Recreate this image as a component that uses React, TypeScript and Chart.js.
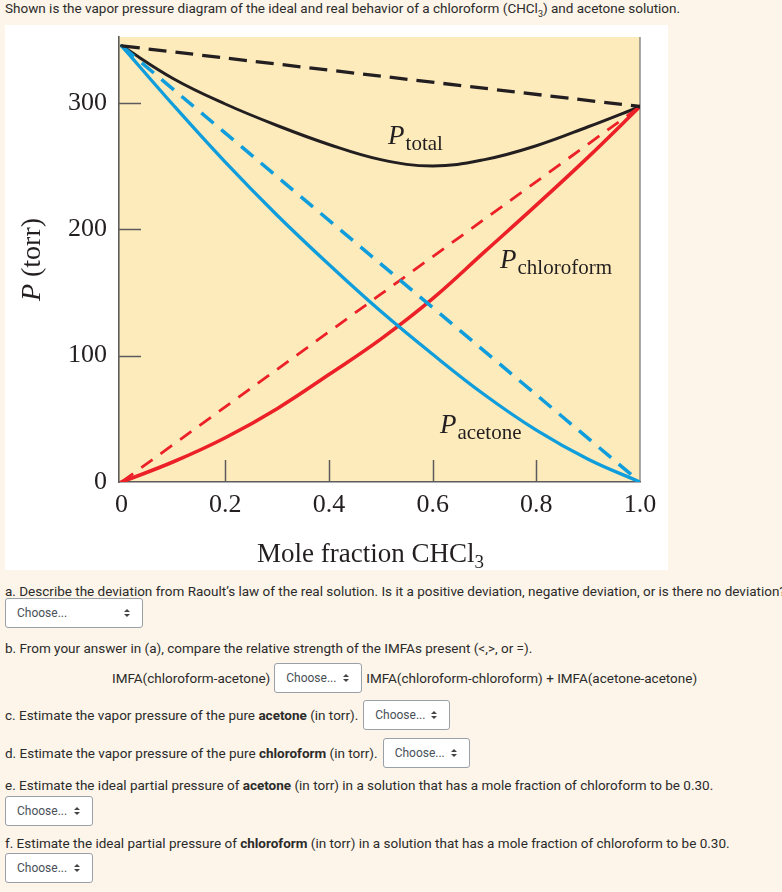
import React, { useEffect, useRef } from 'react';
import { Chart, registerables } from 'chart.js';

Chart.register(...registerables);

// ---- data ----
const moleFraction = [0, 0.1, 0.2, 0.3, 0.4, 0.5, 0.6, 0.7, 0.8, 0.9, 1.0];
const realAcetone = [345, 298, 253, 211, 172, 135, 101, 69, 41, 18, 0];
const realChloroform = [0, 16, 35, 58, 85, 113, 145, 182, 219, 257, 297];
const realTotal = [345, 319, 299, 282, 267, 255, 250, 255, 266, 281, 297];

const idealFraction = [0, 1];
const idealAcetone = [345, 0];
const idealChloroform = [0, 297];
const idealTotal = [345, 297];

const xTickValues = [0, 0.2, 0.4, 0.6, 0.8, 1.0];
const xTickLabels = ['0', '0.2', '0.4', '0.6', '0.8', '1.0'];
const yTickValues = [0, 100, 200, 300];
const yTickLabels = ['0', '100', '200', '300'];
const innerXTicks = [0.2, 0.4, 0.6, 0.8];
const innerYTicks = [100, 200, 300];

const curveLabelMain = ['P', 'P', 'P'];
const curveLabelSub = ['total', 'chloroform', 'acetone'];
const curveLabelX = [0.514, 0.73, 0.614];
const curveLabelY = [267, 169, 39];

// ---- styles ----
const BLUE = '#0f9ddc';
const RED = '#ec2027';
const BLACK = '#231f20';
const PLOT_BG = '#feebbc';
const AXIS = '#5c5c5c';
const SERIF = '"Liberation Serif", "Times New Roman", serif';

const pts = (xs: number[], ys: number[]) => xs.map((x, i) => ({ x, y: ys[i] }));

const decorPlugin = {
  id: 'decor',
  beforeDraw(chart: any) {
    const { ctx, chartArea: a } = chart;
    ctx.save();
    ctx.fillStyle = PLOT_BG;
    ctx.fillRect(a.left, a.top, a.right - a.left, a.bottom - a.top);
    ctx.restore();
  },
  beforeDatasetsDraw(chart: any) {
    const { ctx, chartArea: a, scales } = chart;
    ctx.save();
    ctx.strokeStyle = AXIS;
    ctx.lineWidth = 1.5;
    ctx.beginPath();
    innerYTicks.forEach((v) => {
      const y = Math.round(scales.y.getPixelForValue(v)) + 0.5;
      ctx.moveTo(a.left, y);
      ctx.lineTo(a.left + 22, y);
    });
    innerXTicks.forEach((v) => {
      const x = Math.round(scales.x.getPixelForValue(v)) + 0.5;
      ctx.moveTo(x, a.bottom);
      ctx.lineTo(x, a.bottom - 22);
    });
    ctx.stroke();
    ctx.lineWidth = 1.2;
    ctx.strokeStyle = '#707070';
    ctx.beginPath();
    ctx.moveTo(a.right, a.top);
    ctx.lineTo(a.right, a.bottom);
    ctx.stroke();
    ctx.restore();
  },
  afterDatasetsDraw(chart: any) {
    const { ctx, chartArea: a, scales } = chart;
    ctx.save();
    ctx.fillStyle = BLACK;
    ctx.textBaseline = 'alphabetic';
    ctx.textAlign = 'left';
    // curve labels
    curveLabelMain.forEach((m, i) => {
      const x = scales.x.getPixelForValue(curveLabelX[i]);
      const y = scales.y.getPixelForValue(curveLabelY[i]);
      ctx.font = `italic 27px ${SERIF}`;
      ctx.fillText(m, x, y);
      const w = ctx.measureText(m).width;
      ctx.font = `21px ${SERIF}`;
      ctx.fillText(curveLabelSub[i], x + w + 1, y + 6);
    });
    // x axis title
    ctx.font = `27px ${SERIF}`;
    const main = 'Mole fraction CHCl';
    const mw = ctx.measureText(main).width;
    ctx.font = `19px ${SERIF}`;
    const sw = ctx.measureText('3').width;
    const cx = (a.left + a.right) / 2 - 9;
    const sx = cx - (mw + sw) / 2;
    const by = a.bottom + 80;
    ctx.font = `27px ${SERIF}`;
    ctx.fillText(main, sx, by);
    ctx.font = `19px ${SERIF}`;
    ctx.fillText('3', sx + mw, by + 6);
    // y axis title (rotated)
    ctx.translate(35, (a.top + a.bottom) / 2);
    ctx.rotate(-Math.PI / 2);
    ctx.font = `italic 28px ${SERIF}`;
    const pw = ctx.measureText('P').width;
    ctx.font = `28px ${SERIF}`;
    const rest = ' (torr)';
    const rw = ctx.measureText(rest).width;
    const start = -(pw + rw) / 2;
    ctx.font = `italic 28px ${SERIF}`;
    ctx.fillText('P', start, 0);
    ctx.font = `28px ${SERIF}`;
    ctx.fillText(rest, start + pw, 0);
    ctx.restore();
  },
};

function VaporChart() {
  const ref = useRef<HTMLCanvasElement | null>(null);
  useEffect(() => {
    if (!ref.current) return;
    const line = (data: any[], color: string, width: number, dash: number[] | null) => ({
      data,
      borderColor: color,
      borderWidth: width,
      borderDash: dash || [],
      borderCapStyle: dash ? 'butt' : 'round',
      borderJoinStyle: 'round',
      pointRadius: 0,
      fill: false,
      tension: 0.4,
    });
    const chart = new Chart(ref.current, {
      type: 'line',
      data: {
        datasets: [
          line(pts(idealFraction, idealTotal), BLACK, 3.3, [18, 9]) as any,
          line(pts(idealFraction, idealAcetone), BLUE, 3.5, [16, 10]) as any,
          line(pts(idealFraction, idealChloroform), RED, 2.8, [14, 10]) as any,
          line(pts(moleFraction, realTotal), BLACK, 3, null) as any,
          line(pts(moleFraction, realAcetone), BLUE, 3.3, null) as any,
          line(pts(moleFraction, realChloroform), RED, 3.6, null) as any,
        ],
      },
      options: {
        animation: false,
        responsive: false,
        events: [],
        layout: { padding: { top: 12, right: 28, left: 0, bottom: 0 } },
        plugins: { legend: { display: false }, tooltip: { enabled: false } },
        scales: {
          x: {
            type: 'linear',
            min: -0.005,
            max: 1.0,
            grid: { display: false, drawTicks: false },
            border: { display: true, color: AXIS, width: 1.6 },
            afterBuildTicks: (s: any) => {
              s.ticks = xTickValues.map((value) => ({ value }));
            },
            afterFit: (s: any) => {
              s.height = 88;
              s.paddingLeft = 0;
              s.paddingRight = 0;
            },
            ticks: {
              padding: 8,
              maxRotation: 0,
              autoSkip: false,
              color: BLACK,
              font: { family: SERIF, size: 26 },
              callback: (v: any) => xTickLabels[xTickValues.indexOf(Number(v))] ?? '',
            },
          },
          y: {
            type: 'linear',
            min: 0,
            max: 352,
            grid: { display: false, drawTicks: false },
            border: { display: true, color: AXIS, width: 1.6 },
            afterBuildTicks: (s: any) => {
              s.ticks = yTickValues.map((value) => ({ value }));
            },
            afterFit: (s: any) => {
              s.width = 114;
              s.paddingTop = 0;
              s.paddingBottom = 0;
            },
            ticks: {
              padding: 12,
              autoSkip: false,
              color: BLACK,
              font: { family: SERIF, size: 26 },
              callback: (v: any) => yTickLabels[yTickValues.indexOf(Number(v))] ?? '',
            },
          },
        },
      } as any,
      plugins: [decorPlugin as any],
    });
    return () => chart.destroy();
  }, []);
  return (
    <canvas
      ref={ref}
      width={663}
      height={545}
      style={{ display: 'block', width: 663, height: 545 }}
    />
  );
}

function Arrows() {
  return (
    <span
      style={{
        position: 'absolute',
        right: 12,
        top: '50%',
        marginTop: -4,
        width: 6,
        height: 8,
        display: 'block',
      }}
    >
      <span
        style={{
          position: 'absolute',
          left: 0,
          top: 0,
          width: 0,
          height: 0,
          borderLeft: '3px solid transparent',
          borderRight: '3px solid transparent',
          borderBottom: '3.5px solid #444',
        }}
      />
      <span
        style={{
          position: 'absolute',
          left: 0,
          bottom: 0,
          width: 0,
          height: 0,
          borderLeft: '3px solid transparent',
          borderRight: '3px solid transparent',
          borderTop: '3.5px solid #444',
        }}
      />
    </span>
  );
}

function Choose({ width, style }: { width: number; style?: React.CSSProperties }) {
  return (
    <div
      style={{
        boxSizing: 'border-box',
        width,
        height: 30,
        border: '1px solid #9aa0a7',
        borderRadius: 3,
        background: '#fff',
        position: 'relative',
        fontSize: 12,
        color: '#495057',
        lineHeight: '28px',
        paddingLeft: 11,
        flex: 'none',
        ...style,
      }}
    >
      Choose...
      <Arrows />
    </div>
  );
}

export default function App() {
  const row: React.CSSProperties = {
    position: 'absolute',
    left: 5,
    whiteSpace: 'nowrap',
    lineHeight: '16px',
  };
  const flexRow: React.CSSProperties = {
    position: 'absolute',
    display: 'flex',
    alignItems: 'center',
    whiteSpace: 'nowrap',
    height: 30,
  };
  return (
    <div
      style={{
        position: 'fixed',
        left: 0,
        top: 0,
        width: 782,
        height: 892,
        overflow: 'hidden',
        background: '#fdf5e9',
        fontFamily: 'Roboto, "Noto Sans", sans-serif',
        fontSize: 13.5,
        color: '#2b2b2b',
      }}
    >
      <div style={{ ...row, top: 0 }}>
        Shown is the vapor pressure diagram of the ideal and real behavior of a chloroform (CHCl
        <sub style={{ fontSize: 9, lineHeight: 0 }}>3</sub>) and acetone solution.
      </div>
      <div style={{ position: 'absolute', left: 5, top: 25, width: 663, height: 545, background: '#fff' }}>
        <VaporChart />
      </div>
      <div style={{ ...row, top: 583 }}>
        a. Describe the deviation from Raoult’s law of the real solution. Is it a positive deviation, negative
        deviation, or is there no deviation?
      </div>
      <Choose width={138} style={{ position: 'absolute', left: 5, top: 598 }} />
      <div style={{ ...row, top: 640 }}>
        b. From your answer in (a), compare the relative strength of the IMFAs present (&lt;,&gt;, or =).
      </div>
      <div style={{ ...flexRow, left: 112, top: 663 }}>
        <span>IMFA(chloroform-acetone)</span>
        <Choose width={88} style={{ marginLeft: 4, marginRight: 4 }} />
        <span>IMFA(chloroform-chloroform) + IMFA(acetone-acetone)</span>
      </div>
      <div style={{ ...flexRow, left: 5, top: 700 }}>
        <span>
          c. Estimate the vapor pressure of the pure <b>acetone</b> (in torr).
        </span>
        <Choose width={87} style={{ marginLeft: 5 }} />
      </div>
      <div style={{ ...flexRow, left: 5, top: 738 }}>
        <span>
          d. Estimate the vapor pressure of the pure <b>chloroform</b> (in torr).
        </span>
        <Choose width={87} style={{ marginLeft: 5 }} />
      </div>
      <div style={{ ...row, top: 777 }}>
        e. Estimate the ideal partial pressure of <b>acetone</b> (in torr) in a solution that has a mole fraction
        of chloroform to be 0.30.
      </div>
      <Choose width={88} style={{ position: 'absolute', left: 5, top: 796 }} />
      <div style={{ ...row, top: 835 }}>
        f. Estimate the ideal partial pressure of <b>chloroform</b> (in torr) in a solution that has a mole
        fraction of chloroform to be 0.30.
      </div>
      <Choose width={88} style={{ position: 'absolute', left: 5, top: 853 }} />
    </div>
  );
}
